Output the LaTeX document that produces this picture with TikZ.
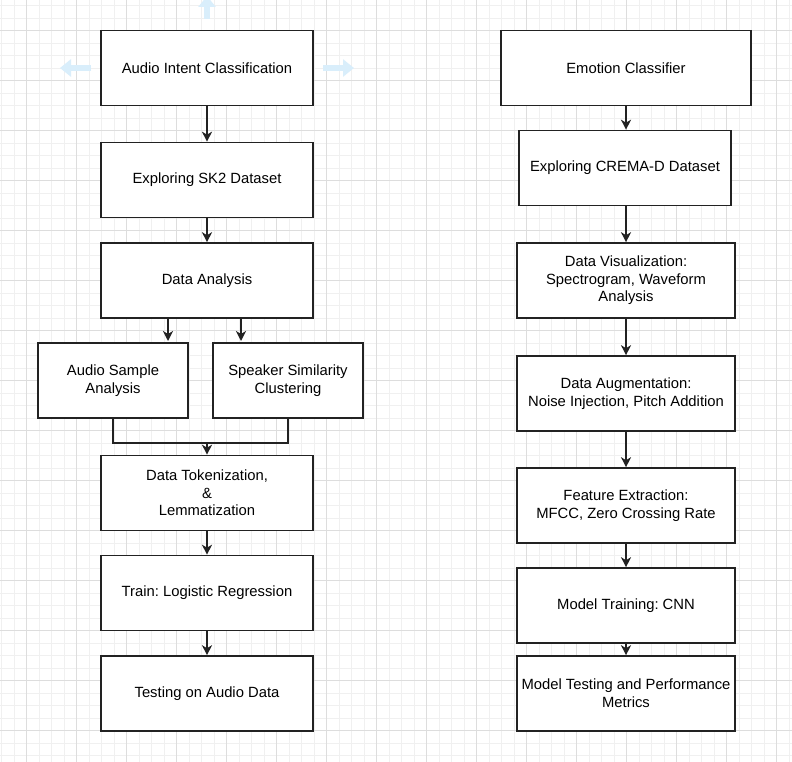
\documentclass[tikz,border=0pt]{standalone}
\usepackage{fontspec}
\setmainfont{Liberation Sans}
\usetikzlibrary{arrows.meta}
\definecolor{gridmajor}{HTML}{DDDDDD}
\definecolor{gridminor}{HTML}{F0F0F0}
\definecolor{hoverblue}{HTML}{D9EEFB}
\definecolor{ink}{HTML}{222222}
\tikzset{
  box/.style={draw=ink, line width=1.6pt, fill=white, align=center, inner sep=2pt,
    font=\frenchspacing\fontsize{14.8pt}{17.6pt}\selectfont, text=black},
  arr/.style={draw=ink, line width=1.6pt, -{Stealth[length=10pt,width=10pt,inset=3pt]}},
  link/.style={draw=ink, line width=1.6pt},
  hover/.style={draw=hoverblue, line width=5.5pt, -{Triangle[length=11pt,width=17pt]}},
}
\begin{document}
\frenchspacing
\begin{tikzpicture}[x=1pt,y=-1pt]
\useasboundingbox (0,0) rectangle (792,762);
\fill[white] (0,0) rectangle (792,762);
% grid
\foreach \i in {0,...,63} {
  \draw[gridminor, line width=0.8pt] ({1.7+12.5*\i},0) -- ({1.7+12.5*\i},762);
}
\foreach \i in {0,...,61} {
  \draw[gridminor, line width=0.8pt] (0,{5.5+12.5*\i}) -- (792,{5.5+12.5*\i});
}
\foreach \i in {0,...,15} {
  \draw[gridmajor, line width=0.9pt] ({26.7+50*\i},0) -- ({26.7+50*\i},762);
}
\foreach \i in {0,...,15} {
  \draw[gridmajor, line width=0.9pt] (0,{30+50*\i}) -- (792,{30+50*\i});
}
% hover hints
\coordinate (hu1) at (207,19);
\coordinate (hu2) at (207,-4);
\coordinate (hl1) at (91,68);
\coordinate (hl2) at (60,68);
\coordinate (hr1) at (323,68);
\coordinate (hr2) at (354,68);
\draw[hover] (hu1) -- (hu2);
\draw[hover] (hl1) -- (hl2);
\draw[hover] (hr1) -- (hr2);

% left column
\node[box, minimum width=212pt, minimum height=75pt] (A1) at (207,68) {Audio Intent Classification};
\node[box, minimum width=212pt, minimum height=75pt] (A2) at (207,180) {Exploring SK2 Dataset};
\node[box, minimum width=212pt, minimum height=75pt] (A3) at (207,280.5) {Data Analysis};
\node[box, minimum width=150pt, minimum height=75pt] (A4) at (113,380.5) {Audio Sample\\Analysis};
\node[box, minimum width=150pt, minimum height=75pt] (A5) at (288,380.5) {Speaker Similarity\\Clustering};
\node[box, minimum width=212pt, minimum height=75pt] (A6) at (207,493) {Data Tokenization,\\\&\\Lemmatization};
\node[box, minimum width=212pt, minimum height=75pt] (A7) at (207,593) {Train: Logistic Regression};
\node[box, minimum width=212pt, minimum height=75pt] (A8) at (207,693.5) {Testing on Audio Data};

% right column
\node[box, minimum width=250pt, minimum height=75pt] (B1) at (626,68) {Emotion Classifier};
\node[box, minimum width=212pt, minimum height=75pt] (B2) at (625,168) {Exploring CREMA-D Dataset};
\node[box, minimum width=218pt, minimum height=75pt] (B3) at (626,280.5) {Data Visualization:\\Spectrogram, Waveform\\Analysis};
\node[box, minimum width=218pt, minimum height=75pt] (B4) at (626,393.5) {Data Augmentation:\\Noise Injection, Pitch Addition};
\node[box, minimum width=218pt, minimum height=75pt] (B5) at (626,505.5) {Feature Extraction:\\MFCC, Zero Crossing Rate};
\node[box, minimum width=218pt, minimum height=75pt] (B6) at (626,605.5) {Model Training: CNN};
\node[box, minimum width=218pt, minimum height=75pt] (B7) at (626,693.5) {Model Testing and Performance\\Metrics};

% left connectors
\draw[arr] (A1) -- (A2);
\draw[arr] (A2) -- (A3);
\coordinate (s4) at (168,318);
\coordinate (t4) at (168,341);
\coordinate (s5) at (241,318);
\coordinate (t5) at (241,341);
\draw[arr] (s4) -- (t4);
\draw[arr] (s5) -- (t5);
\coordinate (m) at (207,443);
\draw[link] (A4.south) |- (m) -| (A5.south);
\draw[arr] (m) -- (A6.north);
\draw[arr] (A6) -- (A7);
\draw[arr] (A7) -- (A8);

% right connectors
\draw[arr] (B1.south) -- (B1.south |- B2.north);
\draw[arr] (B2.south -| B3.north) -- (B3.north);
\draw[arr] (B3) -- (B4);
\draw[arr] (B4) -- (B5);
\draw[arr] (B5) -- (B6);
\draw[arr] (B6) -- (B7);
\end{tikzpicture}
\end{document}
